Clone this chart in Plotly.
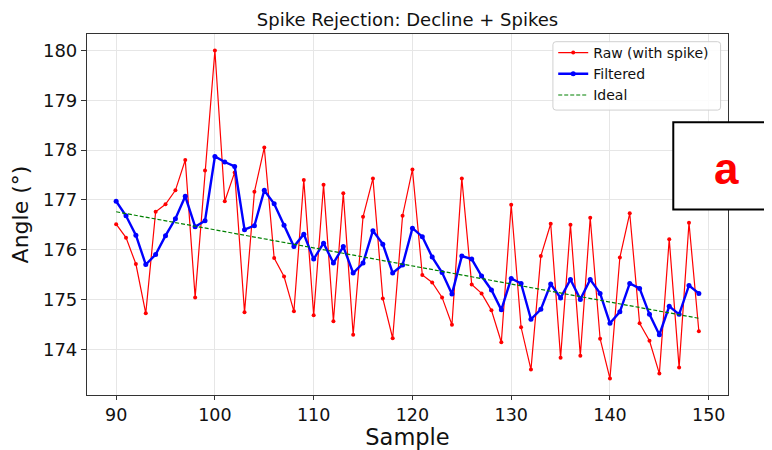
import plotly.graph_objects as go

samples = [90, 91, 92, 93, 94, 95, 96, 97, 98, 99,
           100, 101, 102, 103, 104, 105, 106, 107, 108, 109,
           110, 111, 112, 113, 114, 115, 116, 117, 118, 119,
           120, 121, 122, 123, 124, 125, 126, 127, 128, 129,
           130, 131, 132, 133, 134, 135, 136, 137, 138, 139,
           140, 141, 142, 143, 144, 145, 146, 147, 148, 149]

raw = [176.51, 176.24, 175.71, 174.72, 176.76, 176.91, 177.19, 177.80, 175.04, 177.59,
       180.00, 176.97, 177.55, 174.74, 177.16, 178.05, 175.83, 175.46, 174.76, 177.40,
       174.68, 177.30, 174.56, 177.13, 174.29, 176.66, 177.43, 175.02, 174.22, 176.68,
       177.61, 175.49, 175.34, 175.04, 174.49, 177.43, 175.30, 175.12, 174.78, 174.14,
       176.90, 174.44, 173.59, 175.87, 176.52, 173.83, 176.50, 173.87, 176.64, 174.21,
       173.41, 175.84, 176.73, 174.52, 174.17, 173.51, 176.21, 173.63, 176.54, 174.36]

filtered = [176.97, 176.68, 176.29, 175.70, 175.90, 176.28, 176.62, 177.07, 176.46, 176.58,
            177.87, 177.76, 177.67, 176.40, 176.48, 177.19, 176.92, 176.49, 176.06, 176.31,
            175.81, 176.13, 175.73, 176.06, 175.53, 175.73, 176.38, 176.11, 175.53, 175.69,
            176.43, 176.26, 175.85, 175.54, 175.11, 175.87, 175.81, 175.47, 175.19, 174.79,
            175.42, 175.32, 174.60, 174.80, 175.31, 175.03, 175.40, 175.00, 175.40, 175.12,
            174.52, 174.75, 175.32, 175.22, 174.70, 174.29, 174.86, 174.70, 175.28, 175.12]

ideal_x = [90, 149]
ideal_y = [176.76, 174.62]

x_ticks = [90, 100, 110, 120, 130, 140, 150]
y_ticks = [174, 175, 176, 177, 178, 179, 180]

title_text = "Spike Rejection: Decline + Spikes"
x_title = "Sample"
y_title = "Angle (°)"
panel_label = "a"

FONT = "DejaVu Sans"

fig = go.Figure()
fig.add_trace(go.Scatter(
    x=samples, y=raw, mode="lines+markers", name="Raw (with spike)",
    line=dict(color="#ff0000", width=1.2),
    marker=dict(color="#ff0000", size=4),
))
fig.add_trace(go.Scatter(
    x=samples, y=filtered, mode="lines+markers", name="Filtered",
    line=dict(color="#0000ff", width=2.4),
    marker=dict(color="#0000ff", size=5),
))
fig.add_trace(go.Scatter(
    x=ideal_x, y=ideal_y, mode="lines", name="Ideal",
    line=dict(color="#008000", width=1.2, dash="4px,2px"),
))

# Page body has an 8px margin; the figure is placed at (8, 8) in the window.
OFF = 8
W, H = 772, 450
FW, FH = W - OFF, H - OFF
# plot area in window pixels
L, R, T, B = 87, 727.7, 34, 394.7
pw, ph = R - L, B - T


def px(x):
    return (x - L) / pw


def py(y):
    return 1 - (y - T) / ph


fig.update_layout(
    width=FW, height=FH, autosize=False,
    margin=dict(l=L - OFF, r=W - R, t=T - OFF, b=H - B, pad=0, autoexpand=False),
    paper_bgcolor="white", plot_bgcolor="white",
    font=dict(family=FONT, color="#111111"),
    title=dict(text=title_text, x=0.5, xref="paper", xanchor="center",
               y=1 - (20 - OFF) / FH, yref="container", yanchor="middle",
               font=dict(size=18, family=FONT, color="#111111")),
    xaxis=dict(
        range=[87.05, 151.95], tickvals=x_ticks, ticktext=[str(v) for v in x_ticks],
        showgrid=True, gridcolor="#e6e6e6", gridwidth=1,
        showline=True, linecolor="#333333", linewidth=1.2, mirror=True,
        ticks="outside", ticklen=4, tickcolor="#333333", tickwidth=1,
        tickfont=dict(size=17.5, family=FONT, color="#111111"),
        title=dict(text=x_title, font=dict(size=22.5, family=FONT, color="#111111"), standoff=9),
        zeroline=False, automargin=False,
    ),
    yaxis=dict(
        range=[173.08, 180.33], tickvals=y_ticks, ticktext=[str(v) for v in y_ticks],
        showgrid=True, gridcolor="#e6e6e6", gridwidth=1,
        showline=True, linecolor="#333333", linewidth=1.2, mirror=True,
        ticks="outside", ticklen=5, tickcolor="#333333", tickwidth=1,
        tickfont=dict(size=18, family=FONT, color="#111111"),
        title=dict(text=y_title, font=dict(size=22, family=FONT, color="#111111"), standoff=8),
        zeroline=False, automargin=False,
    ),
    legend=dict(
        x=px(553), y=py(37), xanchor="left", yanchor="top",
        bgcolor="rgba(0,0,0,0)", borderwidth=0,
        font=dict(size=14, family=FONT, color="#111111"),
        itemwidth=30, tracegroupgap=0,
    ),
    showlegend=True,
)

# legend frame (rounded) drawn as a shape under the legend entries
lx0, lx1, ly0, ly1, rr = 552.7, 720.3, 41.7, 110.0, 3
p = (f"M {px(lx0 + rr)},{py(ly0)} L {px(lx1 - rr)},{py(ly0)} "
     f"Q {px(lx1)},{py(ly0)} {px(lx1)},{py(ly0 + rr)} "
     f"L {px(lx1)},{py(ly1 - rr)} Q {px(lx1)},{py(ly1)} {px(lx1 - rr)},{py(ly1)} "
     f"L {px(lx0 + rr)},{py(ly1)} Q {px(lx0)},{py(ly1)} {px(lx0)},{py(ly1 - rr)} "
     f"L {px(lx0)},{py(ly0 + rr)} Q {px(lx0)},{py(ly0)} {px(lx0 + rr)},{py(ly0)} Z")
fig.add_shape(type="path", xref="paper", yref="paper", path=p,
              line=dict(color="#d0d0d0", width=1), fillcolor="rgba(255,255,255,0.85)",
              layer="above")

fig.add_shape(
    type="rect", xref="paper", yref="paper",
    x0=px(673), x1=px(790), y0=py(209.3), y1=py(122.3),
    line=dict(color="black", width=2), fillcolor="white", layer="above",
)
fig.add_annotation(
    text="<b>" + panel_label + "</b>", xref="paper", yref="paper",
    x=px(726), y=py(168), xanchor="center", yanchor="middle", showarrow=False,
    font=dict(size=44, family="Liberation Sans", color="#ff0000"),
)

fig.write_html("out.html")
